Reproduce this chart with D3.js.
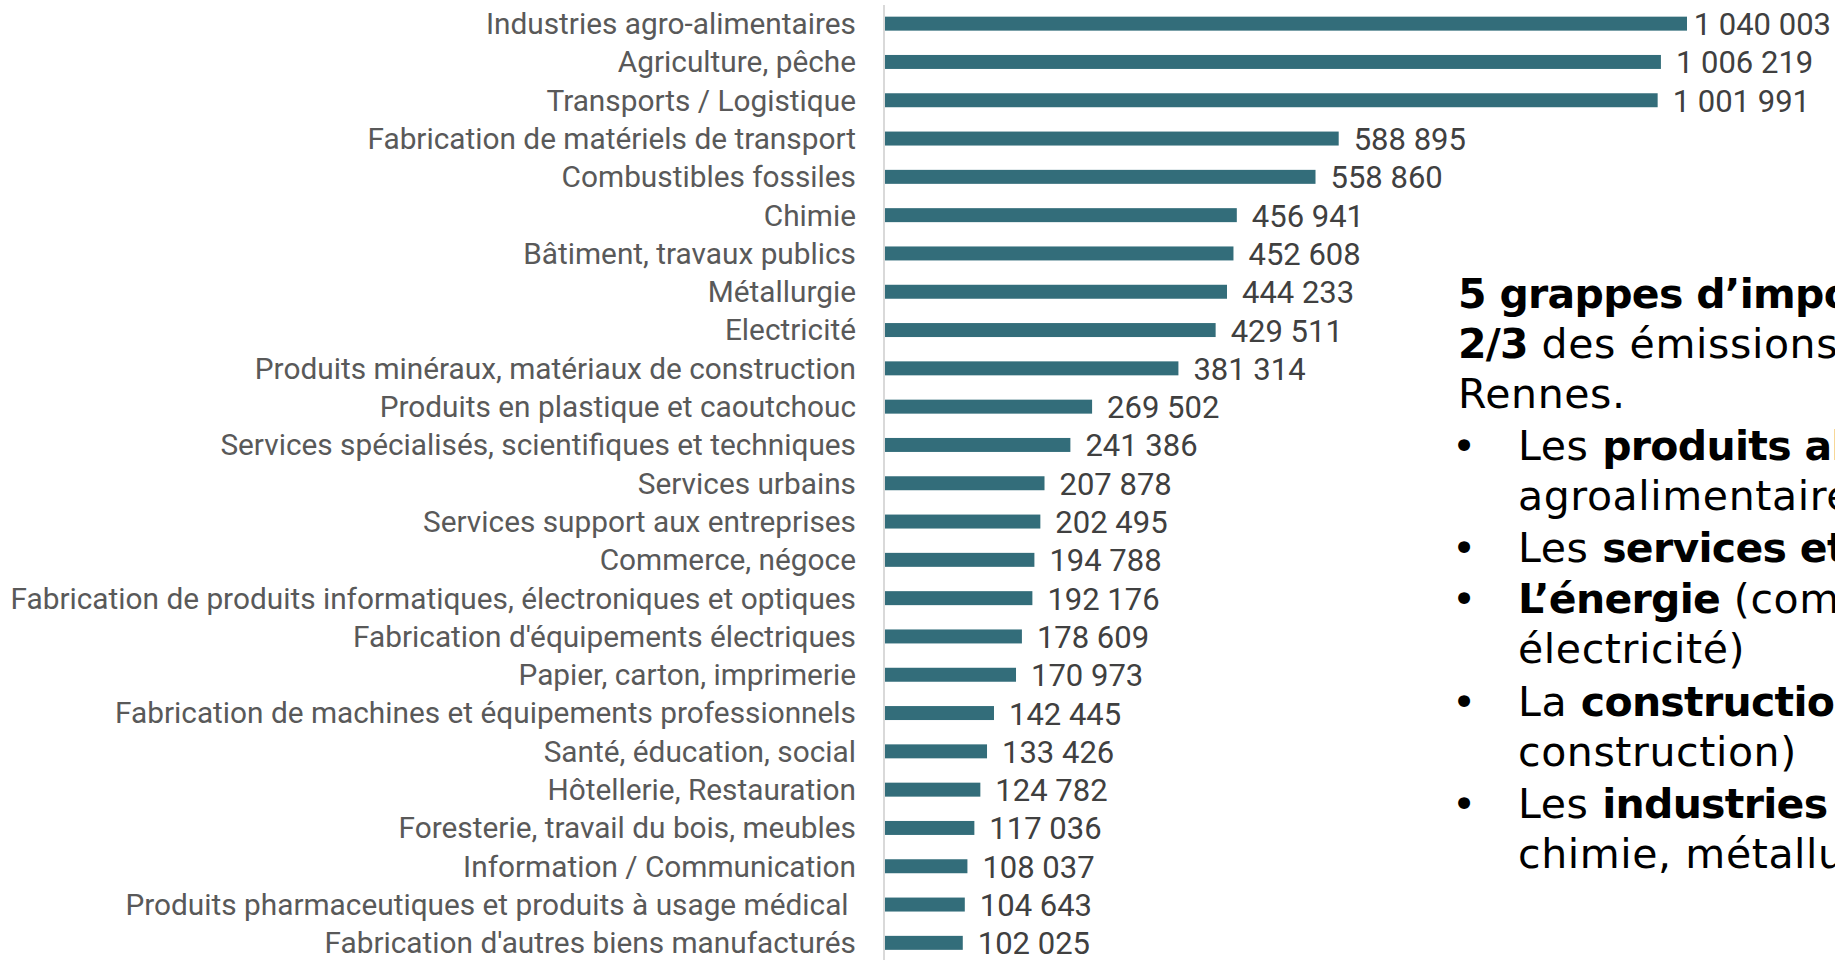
<!DOCTYPE html>
<html>
<head>
<meta charset="utf-8">
<script src="https://cdn.jsdelivr.net/npm/d3@7"></script>
<style>
  html, body { margin: 0; padding: 0; background: #fff; overflow: hidden; }
</style>
</head>
<body>
<div id="chart"></div>
<script>
// categories + values (largest first)
var categories = [
  "Industries agro-alimentaires",
  "Agriculture, pêche",
  "Transports / Logistique",
  "Fabrication de matériels de transport",
  "Combustibles fossiles",
  "Chimie",
  "Bâtiment, travaux publics",
  "Métallurgie",
  "Electricité",
  "Produits minéraux, matériaux de construction",
  "Produits en plastique et caoutchouc",
  "Services spécialisés, scientifiques et techniques",
  "Services urbains",
  "Services support aux entreprises",
  "Commerce, négoce",
  "Fabrication de produits informatiques, électroniques et optiques",
  "Fabrication d'équipements électriques",
  "Papier, carton, imprimerie",
  "Fabrication de machines et équipements professionnels",
  "Santé, éducation, social",
  "Hôtellerie, Restauration",
  "Foresterie, travail du bois, meubles",
  "Information / Communication",
  "Produits pharmaceutiques et produits à usage médical ",
  "Fabrication d'autres biens manufacturés"
];
var values = [1040003, 1006219, 1001991, 588895, 558860, 456941, 452608, 444233, 429511,
  381314, 269502, 241386, 207878, 202495, 194788, 192176, 178609, 170973, 142445,
  133426, 124782, 117036, 108037, 104643, 102025];

// side note text : each line is a list of [text, bold]
var noteLines = [
  [["5 grappes d’importance représentent", true]],
  [["2/3", true], [" des émissions du territoire de", false]],
  [["Rennes.", false]],
  [["Les ", false], ["produits alimentaires", true], [" (agriculture,", false]],
  [["agroalimentaire)", false]],
  [["Les ", false], ["services et transports", true]],
  [["L’énergie", true], [" (combustibles fossiles,", false]],
  [["électricité)", false]],
  [["La ", false], ["construction", true], [" (BTP, matériaux de", false]],
  [["construction)", false]],
  [["Les ", false], ["industries", true], [" (plastique,", false]],
  [["chimie, métallurgie)", false]]
];
var noteBullet = [false, false, false, true, false, true, true, false, true, false, true, false];

var width = 1835, height = 960;
var margin = {top: 4.5, right: 0, bottom: -2, left: 884};

var svg = d3.select("#chart")
  .append("svg")
  .attr("width", width)
  .attr("height", height);

var y = d3.scaleBand()
  .domain(categories)
  .range([margin.top, height - margin.bottom])
  .paddingInner(0.635)
  .paddingOuter(0.3175);

var x = d3.scaleLinear()
  .domain([0, d3.max(values)])
  .range([margin.left, 1687]);

var fmt = function(v) { return d3.format(",")(v).replace(/,/g, " "); };

// bars
svg.append("g")
  .selectAll("rect")
  .data(values)
  .enter()
  .append("rect")
    .attr("x", x(0))
    .attr("y", function(d, i) { return y(categories[i]); })
    .attr("width", function(d) { return x(d) - x(0); })
    .attr("height", y.bandwidth())
    .style("fill", "#336d7a");

// axis line on the left of the bars
var yAxis = svg.append("g")
  .attr("transform", "translate(" + x(0) + ",0)")
  .call(d3.axisLeft(y).tickSize(0).tickPadding(28));
yAxis.select(".domain").attr("d", "M0,5V960").attr("stroke", "#d9d9d9").attr("stroke-width", 2);
yAxis.selectAll("text")
  .style("font-family", "Roboto, sans-serif")
  .style("font-size", "29.8px")
  .style("white-space", "pre")
  .attr("fill", "#595959")
  .attr("dy", "0.35em");

// value labels
svg.append("g")
  .selectAll("text")
  .data(values)
  .enter()
  .append("text")
    .attr("x", function(d) { return x(d) + 15; })
    .attr("y", function(d, i) { return y(categories[i]) + y.bandwidth() / 2; })
    .attr("dy", "0.37em")
    .style("font-family", "Roboto, sans-serif")
    .style("font-size", "31px")
    .attr("fill", "#404040")
    .text(fmt)
    .each(function() {
      // keep the label inside the picture
      var w = this.getComputedTextLength();
      var cx = +d3.select(this).attr("x");
      if (cx + w > width - 4) d3.select(this).attr("x", width - 4 - w);
    });

// side note
var noteY = [293, 343, 393, 445, 495, 547, 598, 648, 701, 751, 803, 853];
var note = svg.append("g")
  .style("font-family", "'DejaVu Sans', sans-serif")
  .style("font-size", "41px")
  .attr("fill", "#000");

noteLines.forEach(function(line, i) {
  var t = note.append("text")
    .attr("x", noteBullet[i] || (i > 2) ? 1518 : 1458)
    .attr("y", noteY[i])
    .attr("dy", "0.36em");
  line.forEach(function(part) {
    t.append("tspan")
      .style("font-weight", part[1] ? "bold" : "normal")
      .style("letter-spacing", part[1] ? "-0.7px" : "0.6px")
      .text(part[0]);
  });
  if (noteBullet[i]) {
    note.append("text")
      .attr("x", 1452)
      .attr("y", noteY[i])
      .attr("dy", "0.36em")
      .text("•");
  }
});
</script>
</body>
</html>
